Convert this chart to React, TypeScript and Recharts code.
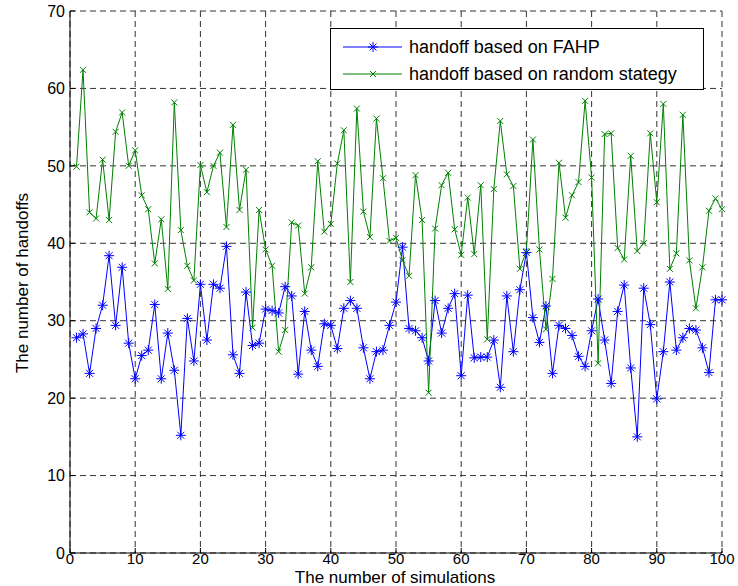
import React from 'react';
import { LineChart, Line, XAxis, YAxis, CartesianGrid } from 'recharts';

const xTicks = [0, 10, 20, 30, 40, 50, 60, 70, 80, 90, 100];
const yTicks = [0, 10, 20, 30, 40, 50, 60, 70];

const fahp = [
  27.8, 28.3, 23.2, 29.0, 32.0, 38.4, 29.4, 36.9, 27.1, 22.5,
  25.5, 26.2, 32.1, 22.5, 28.4, 23.6, 15.2, 30.3, 24.8, 34.7,
  27.5, 34.7, 34.2, 39.6, 25.6, 23.2, 33.7, 26.8, 27.1, 31.5,
  31.3, 31.0, 34.4, 33.2, 23.1, 31.2, 26.2, 24.1, 29.6, 29.4,
  26.4, 31.6, 32.6, 31.6, 26.5, 22.5, 26.0, 26.2, 29.4, 32.4,
  39.5, 29.0, 28.7, 27.8, 24.8, 32.6, 28.4, 31.6, 33.5, 22.9,
  33.3, 25.2, 25.3, 25.3, 27.5, 21.4, 33.2, 26.0, 34.0, 38.8,
  30.4, 27.2, 31.9, 23.2, 29.4, 29.0, 28.1, 25.4, 24.1, 28.7,
  32.8, 27.5, 21.9, 31.2, 34.6, 23.9, 15.0, 34.2, 29.5, 19.9,
  26.0, 35.0, 26.2, 27.8, 29.0, 28.8, 26.5, 23.3, 32.7, 32.7,
];

const randomStrategy = [
  49.9, 62.4, 44.0, 43.2, 50.8, 43.0, 54.4, 56.9, 50.0, 52.0,
  46.2, 44.4, 37.4, 43.1, 34.1, 58.2, 41.7, 37.1, 35.2, 50.1,
  46.6, 50.0, 51.7, 42.1, 55.3, 44.3, 49.5, 29.1, 44.3, 39.2,
  37.1, 26.0, 28.8, 42.7, 42.3, 33.5, 36.9, 50.6, 41.5, 42.5,
  50.3, 54.6, 35.0, 57.4, 44.1, 40.8, 56.1, 48.4, 40.3, 40.7,
  37.8, 35.8, 48.8, 43.0, 20.7, 41.9, 47.5, 49.1, 41.8, 38.5,
  45.9, 38.6, 47.5, 27.6, 47.0, 55.8, 48.9, 47.4, 36.7, 39.0,
  53.4, 39.2, 28.9, 35.4, 50.4, 43.3, 46.2, 47.9, 58.4, 48.5,
  24.5, 54.1, 54.2, 39.4, 37.9, 51.3, 39.0, 40.0, 54.2, 45.3,
  58.0, 36.7, 38.7, 56.6, 37.8, 31.6, 36.9, 44.2, 45.8, 44.4,
];

const seriesNames = ['handoff based on FAHP', 'handoff based on random stategy'];
const xLabel = 'The number of simulations';
const yLabel = 'The number of handoffs';

const data = fahp.map((v, i) => ({ sim: i + 1, fahp: v, rnd: randomStrategy[i] }));

const BLUE = '#0000ff';
const GREEN = '#008000';
const FONT = '"Liberation Sans", Arial, sans-serif';

const Star = (cx: number, cy: number, r: number, color: string, key?: any) => (
  <g key={key} stroke={color} strokeWidth={1} fill="none">
    <line x1={cx - r} y1={cy} x2={cx + r} y2={cy} />
    <line x1={cx} y1={cy - r} x2={cx} y2={cy + r} />
    <line x1={cx - r * 0.7} y1={cy - r * 0.7} x2={cx + r * 0.7} y2={cy + r * 0.7} />
    <line x1={cx - r * 0.7} y1={cy + r * 0.7} x2={cx + r * 0.7} y2={cy - r * 0.7} />
  </g>
);

const Cross = (cx: number, cy: number, r: number, color: string, key?: any) => (
  <g key={key} stroke={color} strokeWidth={1} fill="none">
    <line x1={cx - r} y1={cy - r} x2={cx + r} y2={cy + r} />
    <line x1={cx - r} y1={cy + r} x2={cx + r} y2={cy - r} />
  </g>
);

const StarDot = (props: any) => {
  const { cx, cy, index } = props;
  if (cx == null || cy == null) return <g key={index} />;
  return Star(cx, cy, 5, BLUE, index);
};

const CrossDot = (props: any) => {
  const { cx, cy, index } = props;
  if (cx == null || cy == null) return <g key={index} />;
  return Cross(cx, cy, 3, GREEN, index);
};

const LegendBox = () => (
  <div
    style={{
      position: 'absolute',
      left: 330,
      top: 28,
      width: 372,
      height: 60,
      border: '1px solid #000',
      background: '#fff',
      fontFamily: FONT,
      fontSize: 18,
      color: '#000',
    }}
  >
    {[0, 1].map((i) => (
      <div
        key={i}
        style={{ position: 'absolute', left: 0, top: i === 0 ? 5 : 32, height: 26, display: 'flex', alignItems: 'center' }}
      >
        <svg width={78} height={26} style={{ display: 'block' }}>
          <line x1={12} y1={13} x2={71} y2={13} stroke={i === 0 ? BLUE : GREEN} strokeWidth={1} />
          {i === 0 ? Star(42, 13, 5, BLUE) : Cross(42, 13, 3, GREEN)}
        </svg>
        <span style={{ whiteSpace: 'nowrap' }}>{seriesNames[i]}</span>
      </div>
    ))}
  </div>
);

const emptyTick = () => <g />;

export default function App() {
  return (
    <div style={{ position: 'absolute', left: 0, top: 0, width: 738, height: 586, background: '#fff' }}>
      <LineChart
        width={738}
        height={586}
        data={data}
        margin={{ top: 11, right: 16, bottom: 0, left: 0 }}
        style={{ fontFamily: FONT }}
      >
        <CartesianGrid strokeDasharray="6 4" stroke="#333" strokeWidth={1} />
        <XAxis
          dataKey="sim"
          type="number"
          domain={[0, 100]}
          ticks={xTicks}
          interval={0}
          height={33}
          tickSize={-5}
          tickMargin={5}
          axisLine={{ stroke: '#000' }}
          tickLine={{ stroke: '#000' }}
          tick={{ fill: '#000', fontSize: 15, fontFamily: FONT }}
          label={{
            content: () => (
              <text x={395} y={583} textAnchor="middle" fontSize={17} fontFamily={FONT} fill="#000">
                {xLabel}
              </text>
            ),
          }}
        />
        <XAxis
          xAxisId="top"
          orientation="top"
          dataKey="sim"
          type="number"
          domain={[0, 100]}
          ticks={xTicks}
          interval={0}
          height={0}
          tickSize={-5}
          axisLine={{ stroke: '#000' }}
          tickLine={{ stroke: '#000' }}
          tick={emptyTick}
        />
        <YAxis
          type="number"
          domain={[0, 70]}
          ticks={yTicks}
          interval={0}
          width={70}
          tickSize={-5}
          tickMargin={10}
          axisLine={{ stroke: '#000' }}
          tickLine={{ stroke: '#000' }}
          tick={{ fill: '#000', fontSize: 16, fontFamily: FONT }}
          label={{
            content: () => (
              <text
                x={22}
                y={283}
                textAnchor="middle"
                dominantBaseline="central"
                fontSize={17}
                fontFamily={FONT}
                fill="#000"
                transform="rotate(-90 22 283)"
              >
                {yLabel}
              </text>
            ),
          }}
        />
        <YAxis
          yAxisId="right"
          orientation="right"
          type="number"
          domain={[0, 70]}
          ticks={yTicks}
          interval={0}
          width={0}
          tickSize={-5}
          axisLine={{ stroke: '#000' }}
          tickLine={{ stroke: '#000' }}
          tick={emptyTick}
        />
        <Line
          dataKey="fahp"
          stroke={BLUE}
          strokeWidth={1}
          dot={StarDot}
          activeDot={false}
          isAnimationActive={false}
        />
        <Line
          dataKey="rnd"
          stroke={GREEN}
          strokeWidth={1}
          dot={CrossDot}
          activeDot={false}
          isAnimationActive={false}
        />
      </LineChart>
      <LegendBox />
    </div>
  );
}
